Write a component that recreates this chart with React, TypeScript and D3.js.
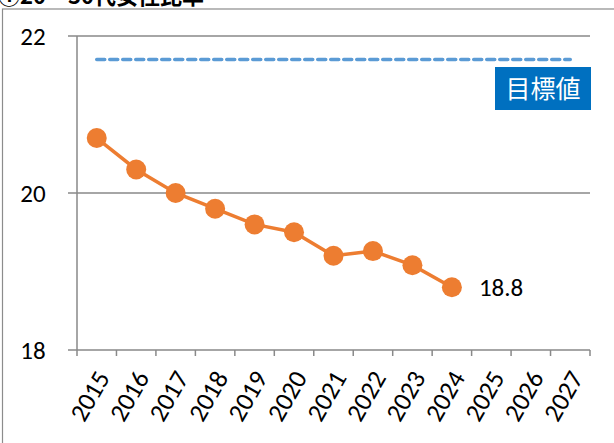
import React from "react";
import * as d3 from "d3";

const years = ["2015","2016","2017","2018","2019","2020","2021","2022","2023","2024","2025","2026","2027"];
const values = [20.7, 20.3, 20.0, 19.8, 19.6, 19.5, 19.2, 19.26, 19.08, 18.8];
const targetValue = 21.7;
const yTicks = [18, 20, 22];
const titleText = "①20～30代女性比率";
const targetLabel = "目標値";
const lastLabel = "18.8";

export default function App() {
  const left = 77, right = 590, top = 36, bottom = 350;
  const x = d3.scaleBand<string>().domain(years).range([left, right]);
  const y = d3.scaleLinear().domain([18, 22]).range([bottom, top]);
  const cx = (yr: string) => (x(yr) as number) + x.bandwidth() / 2;
  const pts = values.map((v, i) => [cx(years[i]), y(v)] as [number, number]);
  const line = d3.line();
  const font = "Carlito, 'Liberation Sans', 'Open Sans', sans-serif";
  const axisColor = "#898989";
  const lastIdx = values.length - 1;
  return (
    <svg width={614} height={443} style={{ position: "absolute", left: 0, top: 0 }} fontFamily={font}>
      <rect x={0} y={0} width={614} height={443} fill="#fff" />
      <text x={-2} y={4} fontSize={22} fontWeight="bold" fill="#000" fontFamily="'Noto Sans CJK JP', sans-serif">{titleText}</text>
      <rect x={2.5} y={9} width={640} height={460} fill="#fff" stroke="#8c8c8c" strokeWidth={1.2} />
      {yTicks.map(t => (
        <g key={t}>
          <line x1={left - 9} x2={right} y1={y(t)} y2={y(t)} stroke={axisColor} strokeWidth={1.5} />
          <text x={33} y={y(t)} dy="0.35em" textAnchor="middle" fontSize={25} fill="#000">{t}</text>
        </g>
      ))}
      <line x1={left} x2={left} y1={top} y2={bottom} stroke={axisColor} strokeWidth={1.5} />
      {years.map((yr) => (
        <line key={"t" + yr} x1={x(yr)} x2={x(yr)} y1={bottom} y2={bottom + 6} stroke={axisColor} strokeWidth={1.5} />
      ))}
      <line x1={right} x2={right} y1={bottom} y2={bottom + 6} stroke={axisColor} strokeWidth={1.5} />
      {years.map(yr => (
        <text key={yr} transform={`translate(${cx(yr) + 6},${bottom + 23}) rotate(-60)`} textAnchor="end" dy="0.35em" fontSize={26} fill="#000">{yr}</text>
      ))}
      <line x1={cx(years[0])} x2={cx(years[years.length - 1])} y1={y(targetValue)} y2={y(targetValue)} stroke="#5B9BD5" strokeWidth={3.5} strokeDasharray="8 5" strokeLinecap="round" />
      <rect x={495} y={67} width={96} height={43} fill="#0070C0" />
      <text x={543} y={89} dy="0.35em" textAnchor="middle" fontSize={25} fill="#fff" fontFamily="'Noto Sans CJK JP', sans-serif">{targetLabel}</text>
      <path d={line(pts) || ""} fill="none" stroke="#ED7D31" strokeWidth={3.5} />
      {pts.map((p, i) => (
        <circle key={i} cx={p[0]} cy={p[1]} r={10} fill="#ED7D31" />
      ))}
      <text x={pts[lastIdx][0] + 27} y={pts[lastIdx][1]} dy="0.35em" fontSize={25} fill="#000">{lastLabel}</text>
    </svg>
  );
}
